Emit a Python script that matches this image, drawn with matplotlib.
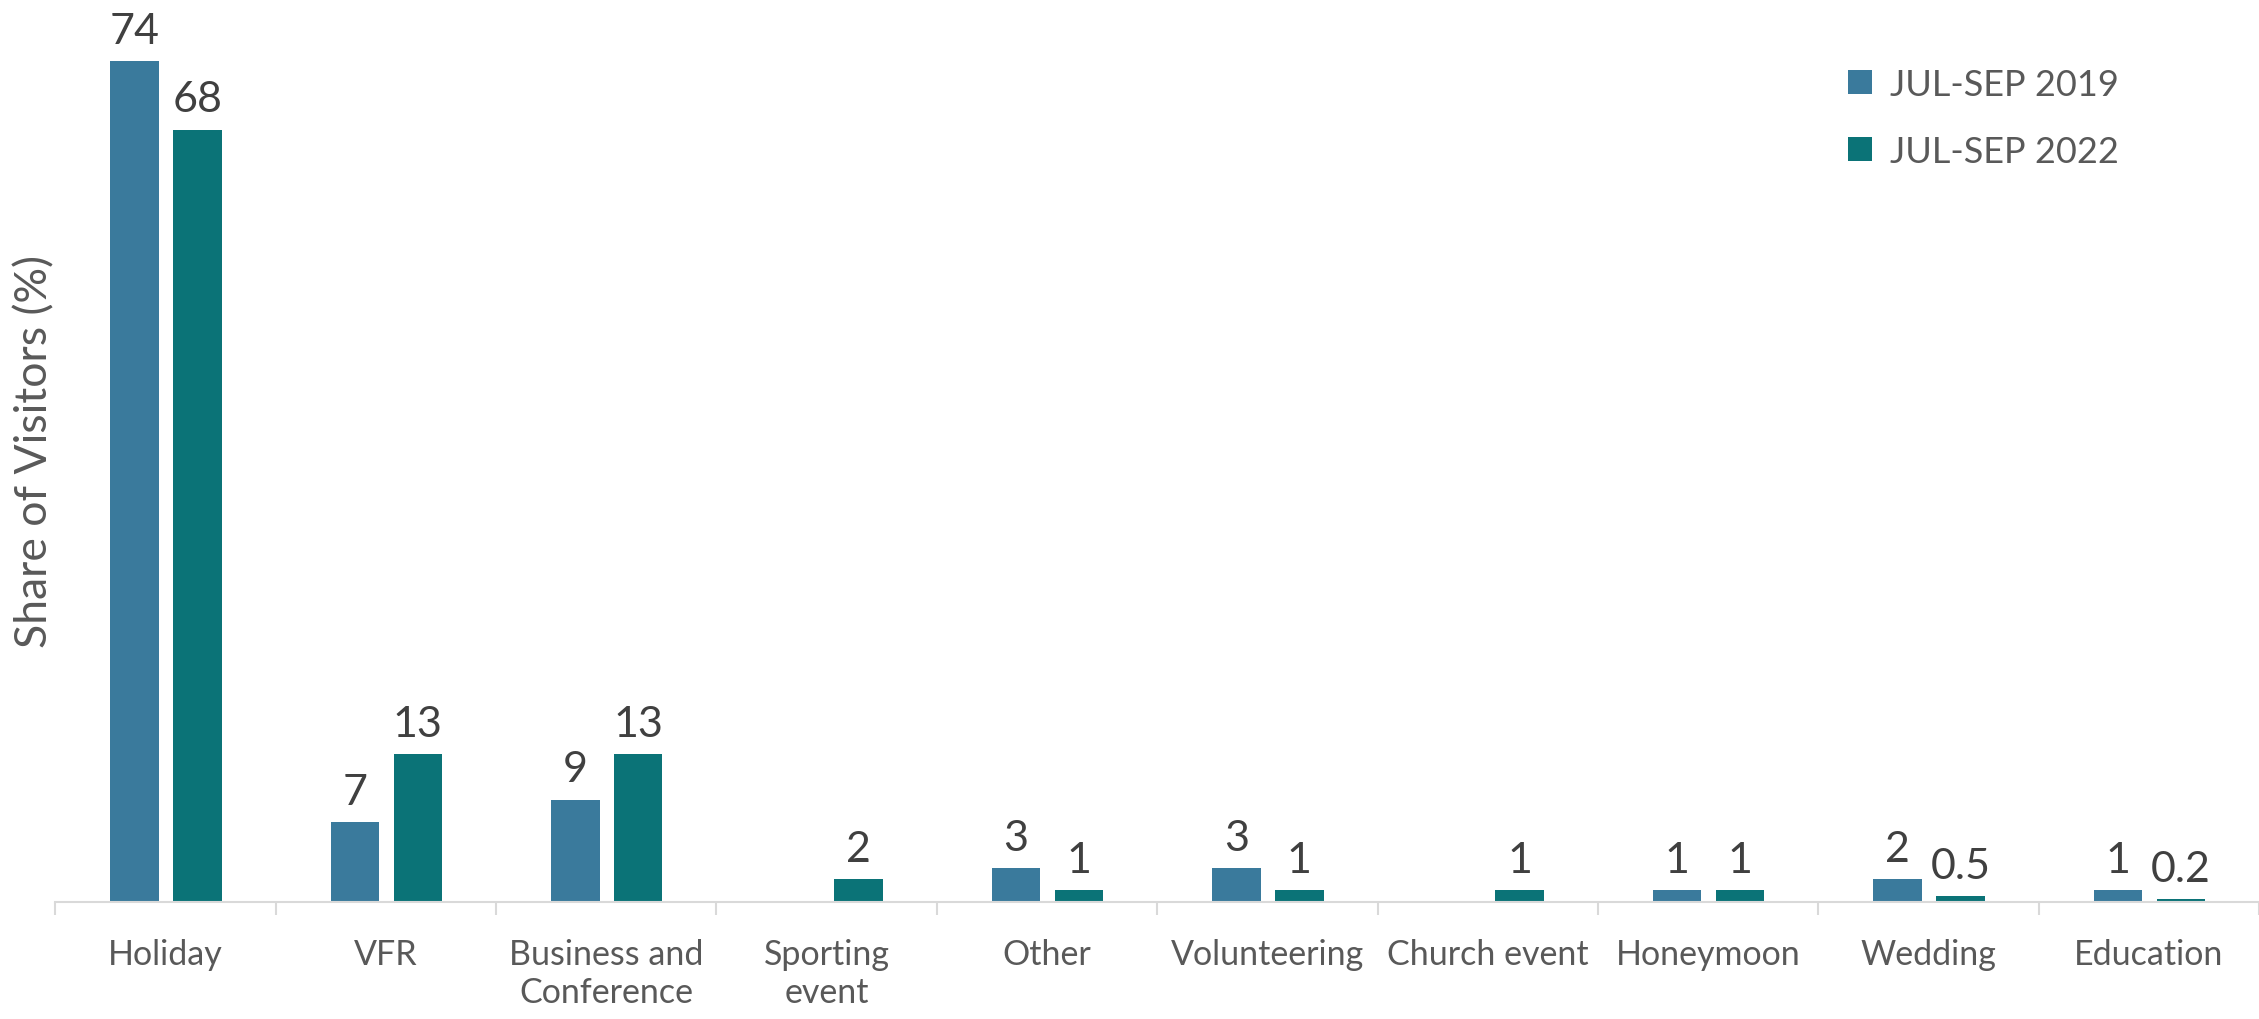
import matplotlib.pyplot as plt
import numpy as np

plt.rcParams["font.family"] = ["Lato", "DejaVu Sans"]

categories = ["Holiday", "VFR", "Business and\nConference", "Sporting\nevent", "Other",
              "Volunteering", "Church event", "Honeymoon", "Wedding", "Education"]
share_2019 = [74, 7, 9, None, 3, 3, None, 1, 2, 1]
share_2022 = [68, 13, 13, 2, 1, 1, 1, 1, 0.5, 0.2]
series_labels = ["JUL-SEP 2019", "JUL-SEP 2022"]

COLOR_2019 = "#3a7a9c"
COLOR_2022 = "#0b7377"
AXIS_GREY = "#d9d9d9"
TEXT_GREY = "#595959"
LABEL_DARK = "#404040"


def fmt_value(v):
    return f"{v:g}"


def draw_series(ax, x, values, color, label):
    vals = np.array([np.nan if v is None else v for v in values], dtype=float)
    bars = ax.bar(x, np.nan_to_num(vals), width=0.22, color=color, label=label)
    for rect, v in zip(bars, vals):
        if np.isnan(v):
            rect.set_visible(False)
            continue
        ax.annotate(fmt_value(v), (rect.get_x() + rect.get_width() / 2, rect.get_height()),
                    xytext=(0, 8), textcoords="offset points", ha="center", va="bottom",
                    fontsize=31, color=LABEL_DARK)
    return bars


fig = plt.figure(figsize=(22.59, 10.20), dpi=100)
ax = fig.add_axes([0.0245, 0.115, 0.9755, 0.885])

x = np.arange(len(categories))
draw_series(ax, x - 0.14, share_2019, COLOR_2019, series_labels[0])
draw_series(ax, x + 0.145, share_2022, COLOR_2022, series_labels[1])

ax.set_xlim(-0.5, len(categories) - 0.5)
ax.set_ylim(0, 79.5)

for side in ["top", "right", "left"]:
    ax.spines[side].set_visible(False)
ax.spines["bottom"].set_color(AXIS_GREY)
ax.spines["bottom"].set_linewidth(1.5)

ax.set_yticks([])
ax.set_xticks(x)
ax.set_xticklabels(categories, fontsize=24.5, color=TEXT_GREY, linespacing=1.25)
ax.tick_params(axis="x", which="major", length=0, pad=26)
ax.set_xticks(np.arange(-0.5, len(categories)), minor=True)
ax.tick_params(axis="x", which="minor", length=9, width=1.5, color=AXIS_GREY)

ax.set_ylabel("Share of Visitors (%)", fontsize=32, color=TEXT_GREY, labelpad=0)

ax.legend(loc="upper right", bbox_to_anchor=(0.951, 0.96), frameon=False,
          fontsize=26, labelcolor=TEXT_GREY, handlelength=0.65, handleheight=0.65,
          handletextpad=0.5, labelspacing=0.95)

fig.savefig("out.png", dpi=100)
